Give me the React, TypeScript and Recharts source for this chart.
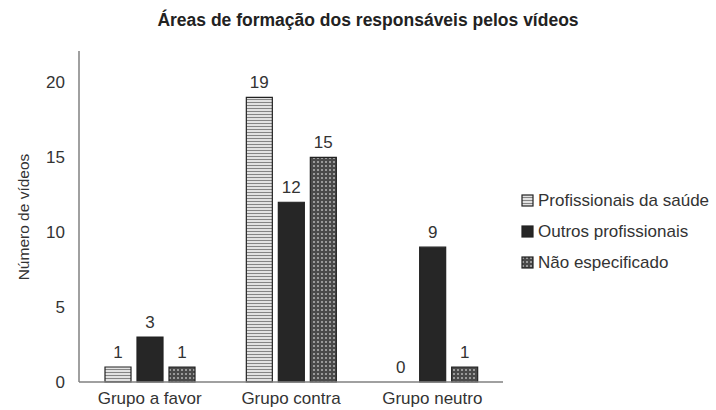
import { BarChart, Bar, XAxis, YAxis, Rectangle } from 'recharts'

// grupos de vídeos
const groups = ['Grupo a favor', 'Grupo contra', 'Grupo neutro']
const saude = [1, 19, 0]
const outros = [3, 12, 9]
const naoEspecificado = [1, 15, 1]
const yTicks = [0, 5, 10, 15, 20]

const seriesKeys = ['saude', 'outros', 'nao']
const seriesNames = ['Profissionais da saúde', 'Outros profissionais', 'Não especificado']
const seriesFills = ['url(#stripes)', '#262626', 'url(#dots)']

const data = groups.map((g, i) => ({
  group: g,
  saude: saude[i],
  outros: outros[i],
  nao: naoEspecificado[i],
}))

const FONT = 'Liberation Sans, Arial, sans-serif'

function Patterns() {
  return (
    <svg width={0} height={0} style={{ position: 'absolute' }}>
      <defs>
        <pattern id="stripes" patternUnits="userSpaceOnUse" width={4} height={3}>
          <rect width={4} height={3} fill="#e2e2e2" />
          <rect width={4} height={1} fill="#858585" />
        </pattern>
        <pattern id="dots" patternUnits="userSpaceOnUse" width={4} height={4}>
          <rect width={4} height={4} fill="#4a4a4a" />
          <rect x={1} y={1} width={2} height={2} fill="#9a9a9a" />
        </pattern>
      </defs>
    </svg>
  )
}

// barra com o valor escrito por cima (também para barras com zero)
const barWithLabel = (key: string) => (props: any) => {
  const { x, y, width, height, fill, payload } = props
  return (
    <g>
      {height > 0 && <Rectangle x={x} y={y} width={width} height={height} fill={fill} stroke="#222" strokeWidth={1.2} />}
      <text x={x + width / 2} y={y - 9} textAnchor="middle" fill="#333" fontSize={17} fontFamily={FONT}>
        {payload[key]}
      </text>
    </g>
  )
}

export default function App() {
  return (
    <div style={{ position: 'absolute', left: 0, top: 0, width: 716, height: 410, fontFamily: FONT }}>
      <Patterns />
      <div
        style={{
          position: 'absolute',
          left: 0,
          top: 10,
          width: 736,
          textAlign: 'center',
          fontWeight: 'bold',
          fontSize: 17.5,
          color: '#222',
        }}
      >
        Áreas de formação dos responsáveis pelos vídeos
      </div>
      <BarChart
        width={716}
        height={410}
        data={data}
        margin={{ top: 51, right: 213, bottom: 0, left: 0 }}
        barSize={26}
        barGap={6}
      >
        <XAxis
          dataKey="group"
          height={28}
          tickLine={false}
          tickMargin={4}
          axisLine={{ stroke: '#808080', strokeWidth: 1.5 }}
          tick={{ fill: '#333', fontSize: 17, fontFamily: FONT }}
        />
        <XAxis xAxisId="top" dataKey="group" orientation="top" height={0} tick={false} tickLine={false}
          axisLine={{ stroke: '#808080', strokeWidth: 1.5 }} />
        <YAxis
          width={79}
          domain={[0, 22.1]}
          ticks={yTicks}
          tickLine={false}
          tickMargin={8}
          axisLine={{ stroke: '#808080', strokeWidth: 1.5 }}
          tick={{ fill: '#333', fontSize: 17, fontFamily: FONT }}
          label={{
            content: () => (
              <text
                x={23}
                y={217}
                transform="rotate(-90 23 217)"
                textAnchor="middle"
                dominantBaseline="central"
                fill="#333"
                fontSize={15.5}
                fontFamily={FONT}
              >
                Número de vídeos
              </text>
            ),
          }}
        />
        <YAxis yAxisId="right" orientation="right" width={0} domain={[0, 22.1]} tick={false} tickLine={false}
          axisLine={{ stroke: '#808080', strokeWidth: 1.5 }} />
        {seriesKeys.map((key, i) => (
          <Bar
            key={key}
            dataKey={key}
            name={seriesNames[i]}
            fill={seriesFills[i]}
            shape={barWithLabel(key)}
            isAnimationActive={false}
          />
        ))}
      </BarChart>
      <div style={{ position: 'absolute', left: 521, top: 185, fontSize: 17, color: '#333', lineHeight: '31px' }}>
        {seriesNames.map((n, i) => (
          <div key={n} style={{ display: 'flex', alignItems: 'center' }}>
            <svg width={14} height={14} style={{ marginRight: 3 }}>
              <rect x={1} y={1} width={11} height={11} fill={seriesFills[i]} stroke="#222" strokeWidth={1.2} />
            </svg>
            {n}
          </div>
        ))}
      </div>
    </div>
  )
}
